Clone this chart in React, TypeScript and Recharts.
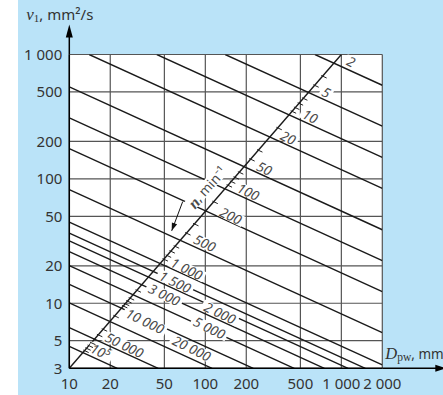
import React from 'react';
import { ComposedChart, Line, Scatter, XAxis, YAxis, CartesianGrid, ReferenceDot } from 'recharts';

// speed lines n (min^-1)
const speedNames = ['2', '5', '10', '20', '50', '100', '200', '500', '1 000', '1 500', '2 000', '3 000', '5 000', '10 000', '20 000', '50 000', '10⁵'];
const lineStartD = [640, 140, 44, 14, 10, 10, 10, 10, 10, 10, 10, 10, 10, 10, 10, 10, 10];
const lineStartV = [1000, 1000, 1000, 1000, 550, 310, 175, 82, 45, 36.7, 31.8, 26, 20.1, 14.2, 10.06, 6.36, 4.5];
const lineEndD = [2000, 2000, 2000, 2000, 2000, 2000, 2000, 2000, 2000, 1500, 1120, 750, 450, 225, 112, 45, 22.5];
const lineEndV = [566, 265, 149, 84, 39, 22, 12.4, 5.8, 3.2, 3, 3, 3, 3, 3, 3, 3, 3];

// label positions (centres)
const labelText = ['2', '5', '10', '20', '50', '100', '200', '500', '1 000', '1 500', '3 000', '10 000', '50 000', '10⁵', '2 000', '5 000', '20 000'];
const labelD = [1180, 775, 589, 407, 272, 207, 154, 99, 73, 60, 49.9, 36, 25.4, 17, 128, 107, 79.4];
const labelV = [875, 495, 318, 214, 121, 78.7, 50.4, 30.4, 18.9, 14.8, 11.7, 7.18, 4.6, 4.07, 8.36, 6.34, 4.33];

// n-scale diagonal
const diagonal = [{ D: 10, v: 3 }, { D: 1000, v: 1000 }];
const diagTickV = [670, 565, 444, 405, 374, 349, 257, 170, 144, 113, 103, 95.2, 88.8, 65.5, 43.4, 36.6, 28.7, 26.2, 24.2, 22.6, 12.7, 10.98, 10.4, 9.9, 9.5, 7.91, 6.17, 5.57, 4.81, 4.56, 4.34, 4.16];

// n-axis caption and arrow
const nCaption = [{ D: 103, v: 85.5, t: 'n' }];
const nArrow = [{ D: 68.2, v: 65.7 }, { D: 56.6, v: 38.2 }];

// axes
const xTicks = [10, 20, 50, 100, 200, 500, 1000, 2000];
const yTicks = [3, 5, 10, 20, 50, 100, 200, 500, 1000];
const xMinor = [15, 30, 40, 60, 70, 80, 90, 150, 300, 400, 600, 700, 800, 900, 1500];
const yMinor = [4, 6, 7, 8, 9, 15, 30, 40, 60, 70, 80, 90, 150, 300, 400, 600, 700, 800, 900];

const lg = Math.log10;
const diagD = (v: number) =>
  10 ** (lg(diagonal[0].D) + ((lg(v) - lg(diagonal[0].v)) / (lg(diagonal[1].v) - lg(diagonal[0].v))) * (lg(diagonal[1].D) - lg(diagonal[0].D)));

const speedLines = speedNames.map((n, i) => ({
  n,
  pts: [
    { D: lineStartD[i], v: lineStartV[i] },
    { D: lineEndD[i], v: lineEndV[i] },
  ],
}));
const labels = labelText.map((t, i) => ({ D: labelD[i], v: labelV[i], t }));
const diagTicks = diagTickV.map((v) => ({ D: diagD(v), v }));

const fmt = (v: number) => (v >= 1000 ? `${Math.floor(v / 1000)} ${String(v % 1000).padStart(3, '0')}` : String(v));

const SANS = 'Noto Sans, Open Sans, sans-serif';
const SERIF = 'Liberation Serif, DejaVu Serif, serif';
const ANG = 26;

const labelW = (t: string) => {
  let w = 0;
  for (const ch of t) w += ch === ' ' ? 3.6 : ch === '⁵' ? 5.5 : 7.6;
  return w;
};

const NLabel = (props: any) => {
  const { cx, cy, payload } = props;
  if (cx == null || cy == null) return null;
  const t: string = payload.t;
  const w = labelW(t);
  const sup = t.endsWith('⁵');
  return (
    <g transform={`translate(${cx},${cy}) rotate(${ANG})`}>
      <rect x={-w / 2 - 2.5} y={-5.5} width={w + 5} height={11} fill="#fff" />
      <text x={sup ? -w / 2 : 0} y={0} textAnchor={sup ? 'start' : 'middle'} dominantBaseline="central" fontSize={13.5} fontStyle="italic" fill="#4a4a4a" fontFamily={SANS}>
        {sup ? (
          <>
            <tspan>10</tspan>
            <tspan fontSize={9.5} dy={-4}>5</tspan>
          </>
        ) : (
          t
        )}
      </text>
    </g>
  );
};

const DiagTick = (props: any) => {
  const { cx, cy } = props;
  if (cx == null || cy == null) return null;
  const c = Math.cos((25 * Math.PI) / 180);
  const s = Math.sin((25 * Math.PI) / 180);
  return <line x1={cx - 1.5 * c} y1={cy - 1.5 * s} x2={cx + 4.5 * c} y2={cy + 4.5 * s} stroke="#222" strokeWidth={1} />;
};

const NCaption = (props: any) => {
  const { cx, cy } = props;
  if (cx == null || cy == null) return null;
  return (
    <g transform={`translate(${cx},${cy}) rotate(-48)`}>
      <rect x={-27} y={-7} width={54} height={13} fill="#fff" />
      <text x={0} y={0} textAnchor="middle" dominantBaseline="central" fill="#4a4a4a">
        <tspan fontFamily={SERIF} fontStyle="italic" fontWeight="bold" fontSize={16}>n</tspan>
        <tspan fontFamily={SANS} fontSize={13.5}>, min⁻¹</tspan>
      </text>
    </g>
  );
};

const ArrowHead = (props: any) => {
  const { cx, cy } = props;
  if (cx == null || cy == null) return null;
  return <polygon points="0,0 -8,-2.8 -8,2.8" transform={`translate(${cx},${cy}) rotate(110.5)`} fill="#111" />;
};

const YDeco = (props: any) => {
  const { cx, cy } = props;
  if (cx == null || cy == null) return null;
  return (
    <g>
      <line x1={cx} y1={cy} x2={cx} y2={cy - 19} stroke="#000" strokeWidth={1.5} />
      <polygon points={`${cx},${cy - 30} ${cx - 3.5},${cy - 17} ${cx + 3.5},${cy - 17}`} fill="#000" />
      <text x={cx - 43} y={cy - 34.5} fill="#333">
        <tspan fontFamily={SERIF} fontStyle="italic" fontSize={17}>ν</tspan>
        <tspan fontFamily={SERIF} fontSize={11} dy={2}>1</tspan>
        <tspan fontFamily={SANS} fontSize={15} dy={-2}>, mm²/s</tspan>
      </text>
    </g>
  );
};

const XDeco = (props: any) => {
  const { cx, cy } = props;
  if (cx == null || cy == null) return null;
  return (
    <g>
      <line x1={cx} y1={cy} x2={cx + 55} y2={cy} stroke="#000" strokeWidth={1.5} />
      <polygon points={`${cx + 64},${cy} ${cx + 53},${cy - 3.5} ${cx + 53},${cy + 3.5}`} fill="#000" />
      <text x={cx + 3} y={cy - 9.5} fill="#333">
        <tspan fontFamily={SERIF} fontStyle="italic" fontSize={16.5}>D</tspan>
        <tspan fontFamily={SERIF} fontSize={11.5} dy={2}>pw</tspan>
        <tspan fontFamily={SANS} fontSize={13.5} dy={-2}>, mm</tspan>
      </text>
    </g>
  );
};

export default function App() {
  return (
    <div style={{ position: 'absolute', left: 0, top: 0, width: 443, height: 395, background: '#fff', overflow: 'hidden' }}>
      <div style={{ position: 'absolute', left: 18, top: 0, width: 425, height: 395, background: '#bae3f8' }} />
      <div style={{ position: 'absolute', left: 0, top: 0 }}>
        <ComposedChart width={443} height={395} margin={{ top: 54.5, right: 60.7, bottom: 0, left: 0 }}>
          <CartesianGrid stroke="#555" strokeWidth={1.2} fill="#fff" fillOpacity={1} />
          <XAxis
            dataKey="D"
            type="number"
            scale="log"
            domain={[10, 2000]}
            allowDataOverflow
            ticks={xTicks}
            interval={0}
            tickFormatter={fmt}
            height={26.7}
            tickSize={0}
            tickMargin={10}
            tickLine={false}
            axisLine={{ stroke: '#000', strokeWidth: 1.5 }}
            tick={{ fill: '#333', fontSize: 15, fontFamily: SANS }}
          />
          <XAxis
            xAxisId="minor"
            dataKey="D"
            type="number"
            scale="log"
            domain={[10, 2000]}
            allowDataOverflow
            ticks={xMinor}
            interval={0}
            orientation="bottom"
            mirror
            tick={false}
            axisLine={false}
            tickSize={6}
            tickLine={{ stroke: '#222', strokeWidth: 1 }}
          />
          <YAxis
            type="number"
            scale="log"
            domain={[3, 1000]}
            allowDataOverflow
            ticks={yTicks}
            interval={0}
            tickFormatter={fmt}
            width={69.3}
            tickSize={0}
            tickMargin={7}
            tickLine={false}
            axisLine={{ stroke: '#000', strokeWidth: 1.5 }}
            tick={{ fill: '#333', fontSize: 15, fontFamily: SANS }}
          />
          <YAxis
            yAxisId="minor"
            type="number"
            scale="log"
            domain={[3, 1000]}
            allowDataOverflow
            ticks={yMinor}
            interval={0}
            orientation="left"
            mirror
            width={0}
            tick={false}
            axisLine={false}
            tickSize={6}
            tickLine={{ stroke: '#222', strokeWidth: 1 }}
          />
          {speedLines.map((l) => (
            <Line
              key={l.n}
              data={l.pts}
              dataKey="v"
              stroke="#1a1a1a"
              strokeWidth={1.4}
              dot={false}
              activeDot={false}
              isAnimationActive={false}
            />
          ))}
          <Scatter data={labels} dataKey="v" shape={(p: any) => <NLabel {...p} />} isAnimationActive={false} />
          <Scatter data={nCaption} dataKey="v" shape={(p: any) => <NCaption {...p} />} isAnimationActive={false} />
          <Line data={diagonal} dataKey="v" stroke="#1a1a1a" strokeWidth={1.4} dot={false} activeDot={false} isAnimationActive={false} />
          <Scatter data={diagTicks} dataKey="v" shape={(p: any) => <DiagTick {...p} />} isAnimationActive={false} />
          <Line data={nArrow} dataKey="v" stroke="#111" strokeWidth={1} dot={false} activeDot={false} isAnimationActive={false} />
          <Scatter data={[nArrow[1]]} dataKey="v" shape={(p: any) => <ArrowHead {...p} />} isAnimationActive={false} />
          <ReferenceDot x={10} y={1000} ifOverflow="visible" shape={(p: any) => <YDeco {...p} />} />
          <ReferenceDot x={2000} y={3} ifOverflow="visible" shape={(p: any) => <XDeco {...p} />} />
        </ComposedChart>
      </div>
    </div>
  );
}
